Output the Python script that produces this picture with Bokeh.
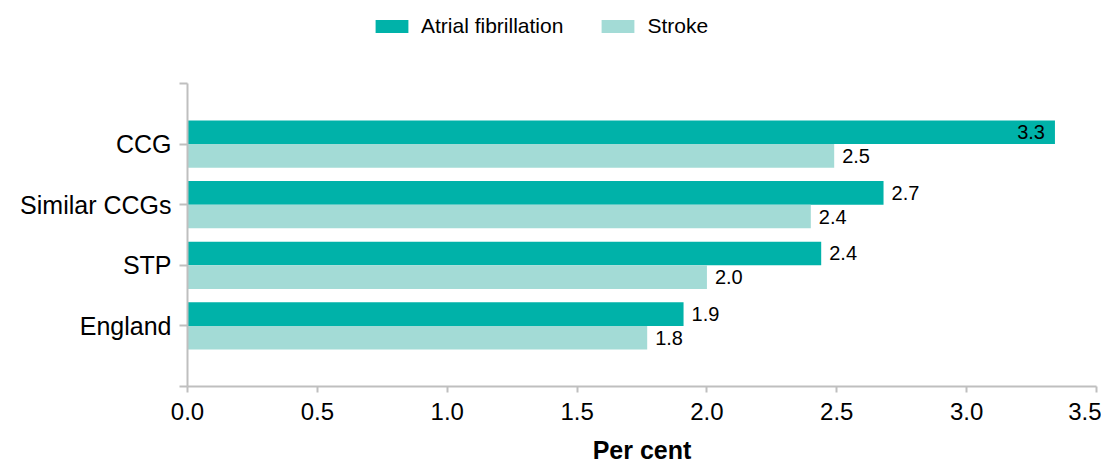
from bokeh.plotting import figure
from bokeh.layouts import column
from bokeh.models import ColumnDataSource, Legend, LegendItem, FixedTicker, Range1d
from bokeh.core.properties import value
from bokeh.embed import file_html
from bokeh.resources import INLINE

categories = ["CCG", "Similar CCGs", "STP", "England"]
atrial_fibrillation = [3.34, 2.68, 2.44, 1.91]
stroke = [2.49, 2.40, 2.00, 1.77]
x_ticks = [0.0, 0.5, 1.0, 1.5, 2.0, 2.5, 3.0, 3.5]
series_names = ["Atrial fibrillation", "Stroke"]

AF_COLOR = "#00b2a9"
ST_COLOR = "#a3dbd6"
FONT = "Liberation Sans"
BAR_H = 0.39
W = 1101
LEG_H = 60
MAIN_H = 406

n = len(categories)
ypos = [n - i for i in range(n)]  # CCG at top

af_src = ColumnDataSource(dict(
    y=[v + BAR_H / 2 for v in ypos],
    x=atrial_fibrillation,
    label=[f"{v:.1f}" for v in atrial_fibrillation],
    align=["right" if v > 3.0 else "left" for v in atrial_fibrillation],
    off=[-10 if v > 3.0 else 8 for v in atrial_fibrillation],
))
st_src = ColumnDataSource(dict(
    y=[v - BAR_H / 2 for v in ypos],
    x=stroke,
    label=[f"{v:.1f}" for v in stroke],
    align=["right" if v > 3.0 else "left" for v in stroke],
    off=[-10 if v > 3.0 else 8 for v in stroke],
))

# ---------- legend strip (frame aligned with the main chart's frame) ----------
pl = figure(width=W, height=LEG_H, output_backend="svg", toolbar_location=None,
            x_range=Range1d(0, 1), y_range=Range1d(0, 1), min_border=0)
pl.outline_line_color = None
pl.grid.grid_line_color = None
pl.axis.visible = False
# off-screen stand-in renderers, only used for the legend swatches
lg_af = pl.hbar(y=[-10], right=[1], left=0, height=1, fill_color=AF_COLOR, line_color=None)
lg_st = pl.hbar(y=[-10], right=[1], left=0, height=1, fill_color=ST_COLOR, line_color=None)
legend = Legend(items=[LegendItem(label=series_names[0], renderers=[lg_af]),
                       LegendItem(label=series_names[1], renderers=[lg_st])],
                orientation="horizontal", location=(184, 22),
                glyph_width=41, glyph_height=16, spacing=34, label_standoff=9,
                label_text_font=FONT, label_text_font_size="21px",
                label_text_color="#000000", border_line_color=None,
                background_fill_alpha=0, padding=0, margin=0)
pl.add_layout(legend, "center")

# ---------- main chart ----------
p = figure(width=W, height=MAIN_H, output_backend="svg", toolbar_location=None,
           x_range=Range1d(0, 3.5), y_range=Range1d(0, n + 1),
           min_border_left=187, min_border_right=5, min_border_top=83 - LEG_H,
           min_border_bottom=80)
p.outline_line_color = None
p.grid.grid_line_color = None

p.hbar(y="y", right="x", left=0, height=BAR_H, source=af_src,
       fill_color=AF_COLOR, line_color=None)
p.hbar(y="y", right="x", left=0, height=BAR_H, source=st_src,
       fill_color=ST_COLOR, line_color=None)

for src in (af_src, st_src):
    p.text(x="x", y="y", text="label", source=src, text_align="align",
           x_offset="off", text_baseline="middle", text_font=value(FONT),
           text_font_size="20px", text_color="#000000")

xa = p.xaxis[0]
xa.ticker = FixedTicker(ticks=x_ticks)
xa.major_label_overrides = {t: f"{t:.1f}" for t in x_ticks}
xa.axis_line_color = "#bfbfbf"
xa.axis_line_width = 2
xa.major_tick_line_color = "#bfbfbf"
xa.major_tick_line_width = 2
xa.major_tick_out = 6
xa.major_tick_in = 0
xa.minor_tick_line_color = None
xa.major_label_text_font = FONT
xa.major_label_text_font_size = "24px"
xa.major_label_text_color = "#000000"
xa.major_label_standoff = 10
xa.axis_label = "Per cent"
xa.axis_label_text_font = FONT
xa.axis_label_text_font_size = "25px"
xa.axis_label_text_font_style = "bold"
xa.axis_label_text_color = "#000000"
xa.axis_label_standoff = 13

ya = p.yaxis[0]
ya.ticker = FixedTicker(ticks=list(range(0, n + 2)))
overrides = {k: "" for k in range(0, n + 2)}
for c, yv in zip(categories, ypos):
    overrides[yv] = c
ya.major_label_overrides = overrides
ya.axis_line_color = "#bfbfbf"
ya.axis_line_width = 2
ya.major_tick_line_color = "#bfbfbf"
ya.major_tick_line_width = 2
ya.major_tick_out = 8
ya.major_tick_in = 0
ya.minor_tick_line_color = None
ya.major_label_text_font = FONT
ya.major_label_text_font_size = "25px"
ya.major_label_text_color = "#000000"
ya.major_label_standoff = 8

layout = column(pl, p, spacing=0)
open("out.html", "w").write(file_html(layout, INLINE))
